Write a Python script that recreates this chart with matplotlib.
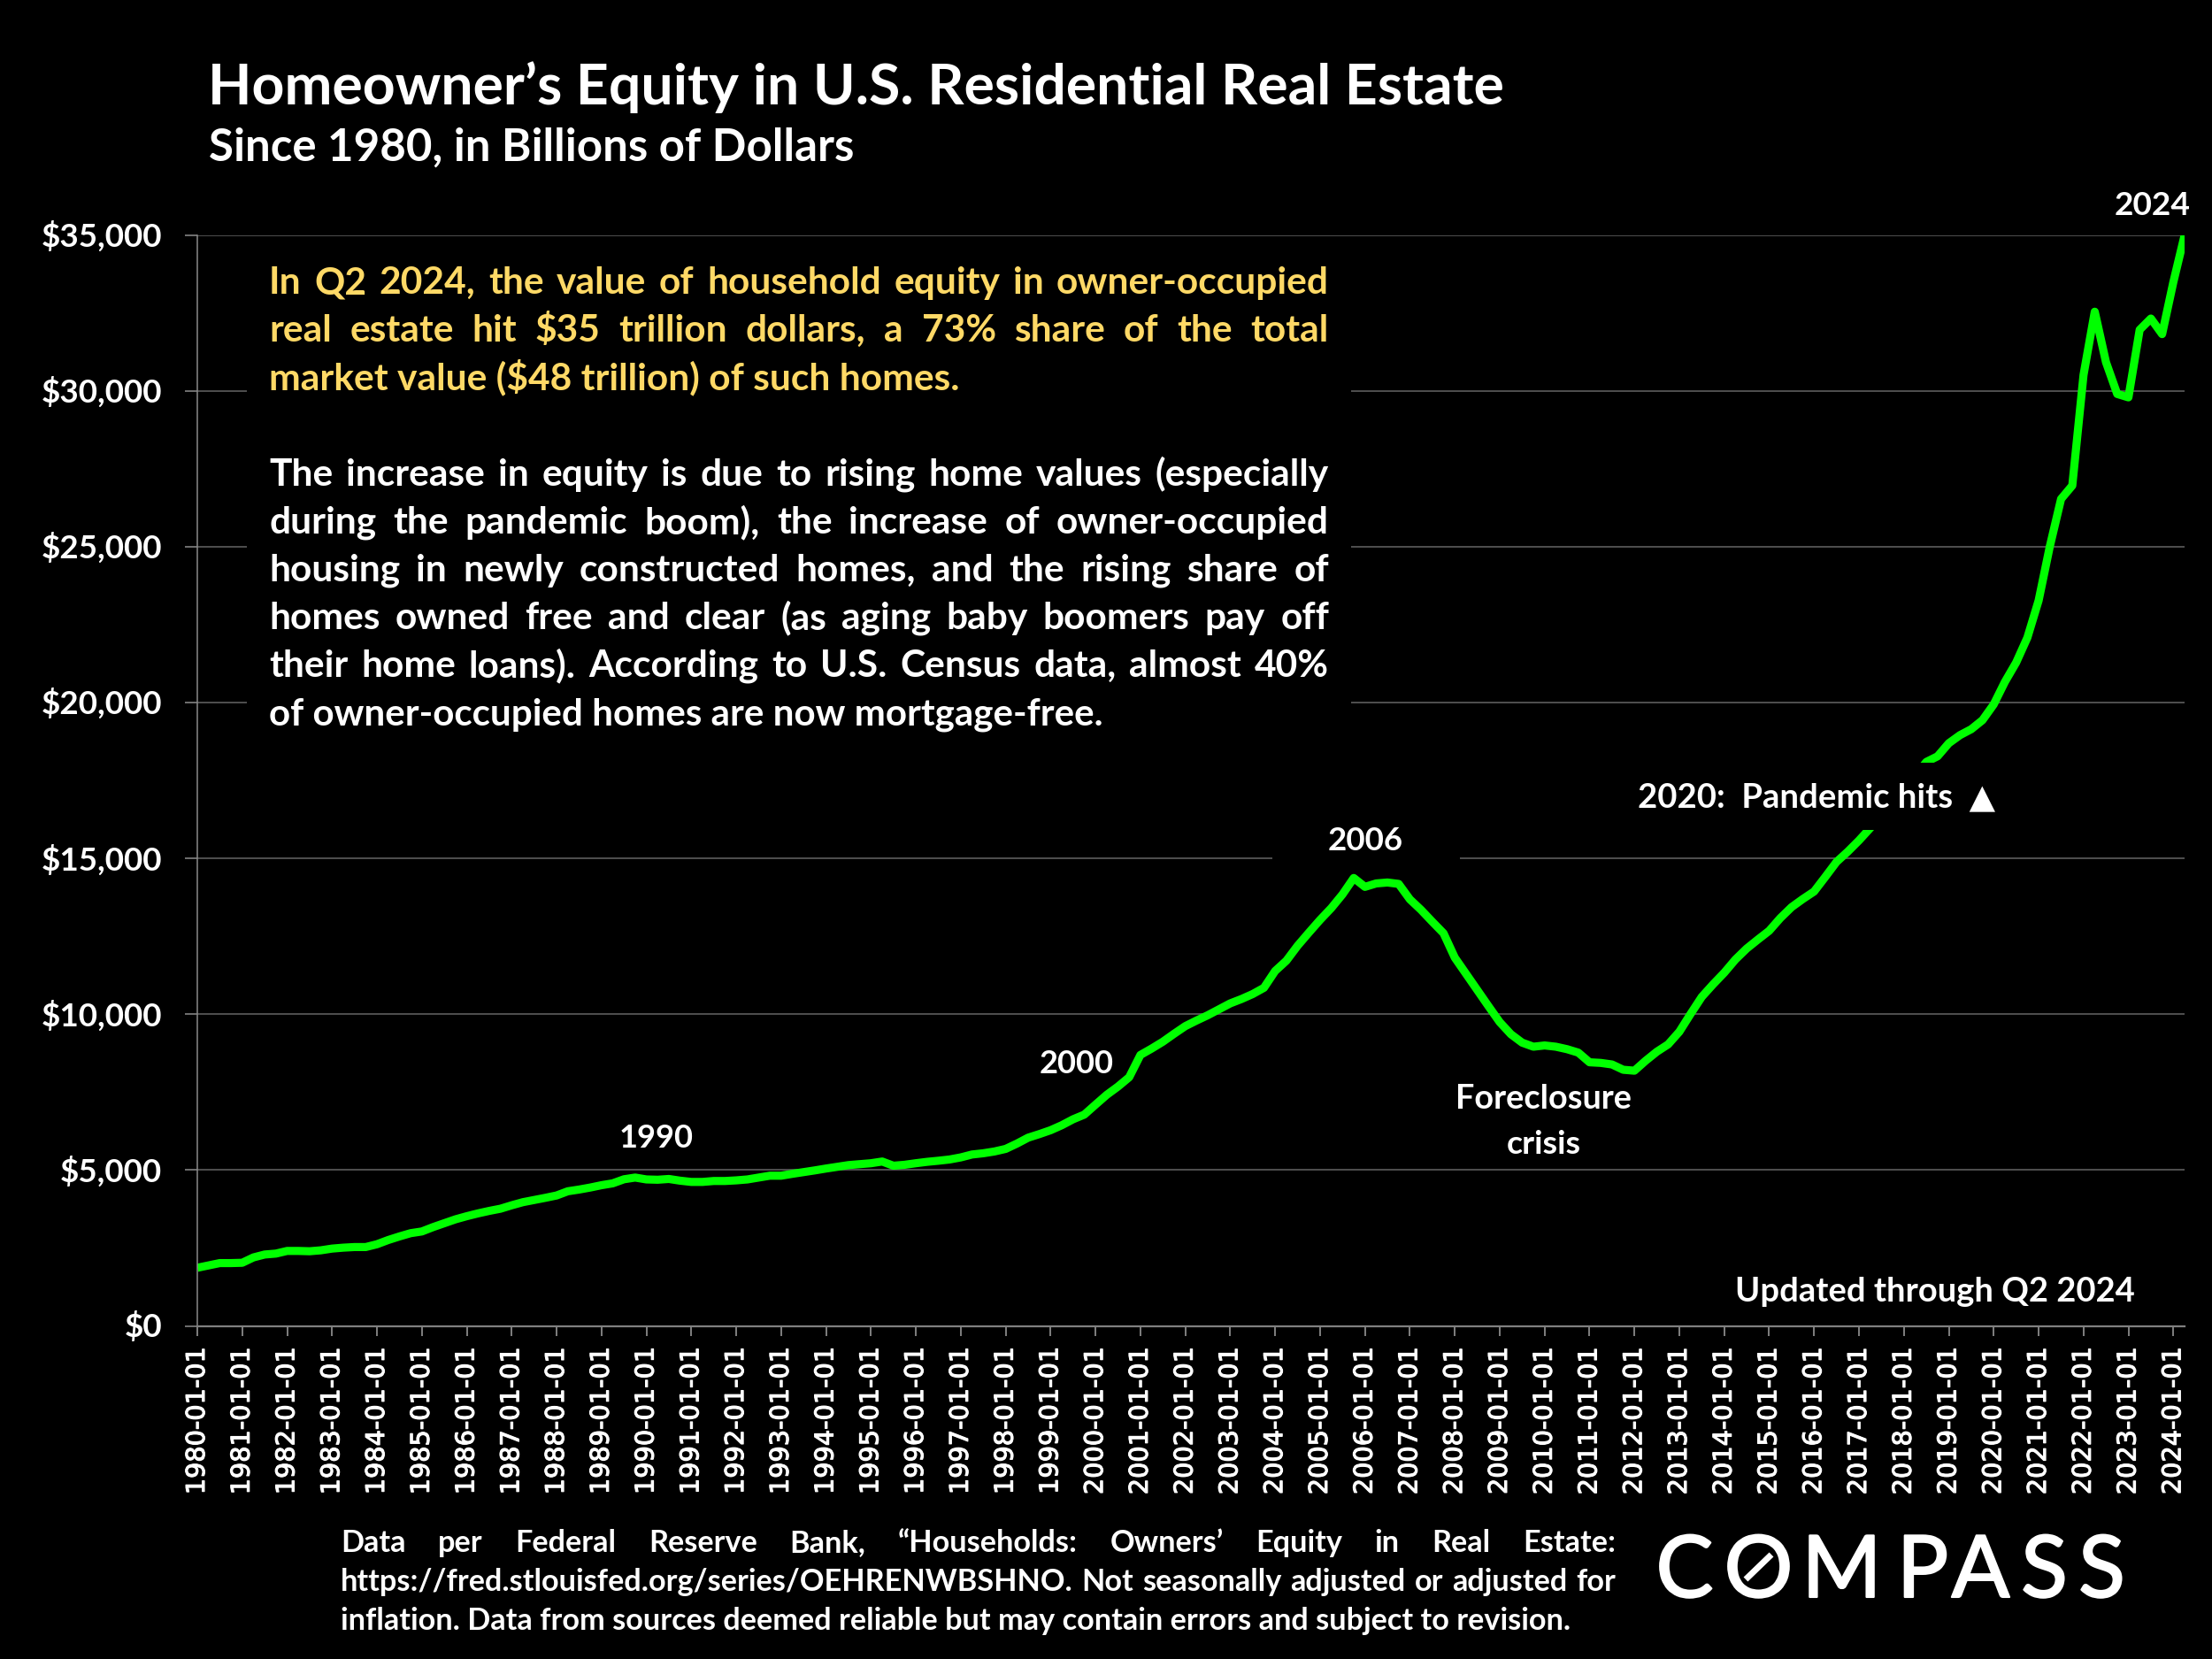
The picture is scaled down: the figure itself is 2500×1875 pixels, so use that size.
import matplotlib
matplotlib.use("Agg")
import matplotlib.pyplot as plt
import matplotlib.patheffects as pe
from matplotlib.patches import Rectangle
from matplotlib.lines import Line2D

W, H = 2500, 1875
FONT = ['Lato', 'DejaVu Sans']

equity = [
    1865, 1940, 2015, 2015,   2025, 2197, 2290, 2320,   2405, 2405, 2395, 2425,   2480, 2510, 2530, 2530,
    2620, 2755, 2870, 2975,   3030, 3170, 3295, 3420,   3520, 3610, 3690, 3760,   3870, 3970, 4040, 4110,
    4185, 4320, 4375, 4440,   4515, 4575, 4705, 4760,   4700, 4690, 4715, 4660,   4620, 4620, 4650, 4650,
    4670, 4700, 4760, 4820,   4820, 4880, 4935, 4990,   5050, 5105, 5160, 5190,   5220, 5275, 5140, 5170,
    5220, 5265, 5300, 5340,   5407, 5500, 5540, 5597,   5680, 5850, 6040, 6155,   6280, 6440, 6630, 6780,
    7100, 7415, 7680, 7980,   8695, 8900, 9120, 9375,   9620, 9800, 9970, 10160,  10350, 10490, 10650, 10850,
    11390, 11720, 12200, 12620, 13030, 13410, 13850, 14375, 14090, 14200, 14230, 14185, 13690, 13350, 12970, 12600,
    11820, 11300, 10780, 10260, 9750, 9360, 9090, 8960,   9000, 8960, 8880, 8770,   8460, 8440, 8390, 8220,
    8190, 8510, 8800, 9034,   9440, 10010, 10560, 10960, 11335, 11760, 12110, 12400, 12680, 13090, 13440, 13700,
    13940, 14410, 14890, 15220, 15580, 15975, 16400, 16800, 17200, 17650, 18100, 18280, 18700, 18960, 19150, 19440,
    19945, 20670, 21290, 22090, 23280, 25020, 26540, 26970, 30520, 32550, 30930, 29910, 29800, 31970, 32330, 31830,
    33500, 35000,
]
years = list(range(1980, 2025))
xtick_labels = [f"{y}-01-01" for y in years]
ytick_values = [0, 5000, 10000, 15000, 20000, 25000, 30000, 35000]
ytick_labels = ["$0", "$5,000", "$10,000", "$15,000", "$20,000", "$25,000", "$30,000", "$35,000"]

title = "Homeowner\u2019s Equity in U.S. Residential Real Estate"
subtitle = "Since 1980, in Billions of Dollars"
para_gold = [
    "In Q2 2024, the value of household equity in owner-occupied",
    "real estate hit $35 trillion dollars, a 73% share of the total",
    "market value ($48 trillion) of such homes.",
]
para_white = [
    "The increase in equity is due to rising home values (especially",
    "during the pandemic boom), the increase of owner-occupied",
    "housing in newly constructed homes, and the rising share of",
    "homes owned free and clear (as aging baby boomers pay off",
    "their home loans). According to U.S. Census data, almost 40%",
    "of owner-occupied homes are now mortgage-free.",
]
footer = [
    "Data per Federal Reserve Bank, \u201cHouseholds: Owners\u2019 Equity in Real Estate:",
    "https://fred.stlouisfed.org/series/OEHRENWBSHNO. Not seasonally adjusted or adjusted for",
    "inflation. Data from sources deemed reliable but may contain errors and subject to revision.",
]

fig = plt.figure(figsize=(W / 100, H / 100), dpi=100, facecolor='black')
L, R, T, B = 223, 2469, 266, 1498.5
ax = fig.add_axes([L / W, 1 - B / H, (R - L) / W, (B - T) / H], facecolor='black')
xs = list(range(len(equity)))
ax.set_xlim(0, len(equity) - 1)
ax.set_ylim(0, 35000)
ax.set_yticks(ytick_values)
ax.set_yticklabels([])
ax.set_xticks(xs[::4])
ax.set_xticklabels(xtick_labels, rotation=90, color='white', fontsize=20.7,
                   family='DejaVu Sans',
                   path_effects=[pe.withStroke(linewidth=0.8, foreground='white')])
ax.tick_params(axis='x', length=8, width=1.4, color='#808080', pad=9)
ax.tick_params(axis='y', length=10, width=1.4, color='#707070')
for s in ('top', 'right'):
    ax.spines[s].set_visible(False)
ax.spines['left'].set_color('#8a8a8a')
ax.spines['left'].set_linewidth(1.1)
ax.spines['bottom'].set_color('#808080')
ax.spines['bottom'].set_linewidth(1.6)
ax.grid(axis='y', color='#505050', lw=1.4, zorder=1)
ax.set_axisbelow(True)
ax.plot(xs, equity, color='#00FF00', lw=6.6, solid_joinstyle='round', solid_capstyle='butt', zorder=2)

for (x0, y0, x1, y1) in [(279, 290, 1527, 840), (1438, 915, 1650, 975), (1835, 862, 2290, 938)]:
    fig.add_artist(Rectangle((x0 / W, 1 - y1 / H), (x1 - x0) / W, (y1 - y0) / H,
                             transform=fig.transFigure, facecolor='black', edgecolor='none', zorder=3))

fig.canvas.draw()
rend = fig.canvas.get_renderer()


def put(s, x, y, size=30, color='white', ha='left', weight='bold', family=FONT):
    return fig.text(x / W, 1 - y / H, s, color=color, fontsize=size, ha=ha, va='baseline',
                    fontweight=weight, family=family, zorder=5)


def width(t):
    return t.get_window_extent(rend).width


def fitted(s, x0, x1, y, color='white', weight='bold'):
    t = put(s, x0, y, color=color, weight=weight)
    t.set_fontsize(30 * (x1 - x0) / width(t))
    return t


def justified(s, x0, x1, y, size, color='white'):
    words = s.split(' ')
    ts = [put(w, x0, y, size=size, color=color) for w in words]
    ws = [width(t) for t in ts]
    gap = (x1 - x0 - sum(ws)) / (len(ws) - 1)
    x = x0
    for t, w in zip(ts, ws):
        t.set_x(x / W)
        x += w + gap


def size_for(s, target):
    t = put(s, 0, 0)
    v = 30 * target / width(t)
    t.remove()
    return v


fitted(title, 235, 1700, 118)
fitted(subtitle, 236, 965, 182)

psize = size_for(para_gold[2], 779)
GOLD = '#FFD966'
for s, y in zip(para_gold[:2], [332, 386]):
    justified(s, 304, 1502, y, psize, GOLD)
put(para_gold[2], 304, 440, size=psize, color=GOLD)
for s, y in zip(para_white[:5], [549, 603, 657, 711, 765]):
    justified(s, 304, 1502, y, psize)
fitted(para_white[5], 304, 1244, 819)

fsize = size_for(footer[2], 1390)
for s, y in zip(footer[:2], [1754, 1798]):
    justified(s, 385, 1826, y, fsize)
put(footer[2], 385, 1842, size=fsize)

ysize = size_for("$35,000", 136)
for v, lab in zip(ytick_values, ytick_labels):
    y = 1498.5 - v / 35000 * (1498.5 - 266)
    put(lab, 183, y + 13, size=ysize, ha='right')

fitted("1990", 700, 784, 1297)
fitted("2000", 1175, 1259, 1213)
fitted("2006", 1501, 1586, 961)
fitted("Foreclosure", 1645, 1844, 1253)
fitted("crisis", 1703, 1787, 1304)
fitted("2024", 2390, 2476, 243)
fitted("2020:  Pandemic hits  \u25B2", 1851, 2254, 912)
fitted("Updated through Q2 2024", 1961, 2412, 1471)

logo = [("C", 1873, 1935), ("O", 1953, 2022), ("M", 2043, 2120), ("P", 2147, 2199),
        ("A", 2203, 2274), ("S", 2287, 2334), ("S", 2352, 2399)]
for ch, x0, x1 in logo:
    t = put(ch, (x0 + x1) / 2, 1805, size=70, ha='center', weight='normal')
    t.set_path_effects([pe.withStroke(linewidth=1.5, foreground='white')])
fig.add_artist(Line2D([1973 / W, 2002 / W], [1 - 1785 / H, 1 - 1757 / H], color='white', lw=5,
                      transform=fig.transFigure, zorder=6, solid_capstyle='butt'))

fig.savefig('out.png', dpi=100, facecolor='black')
